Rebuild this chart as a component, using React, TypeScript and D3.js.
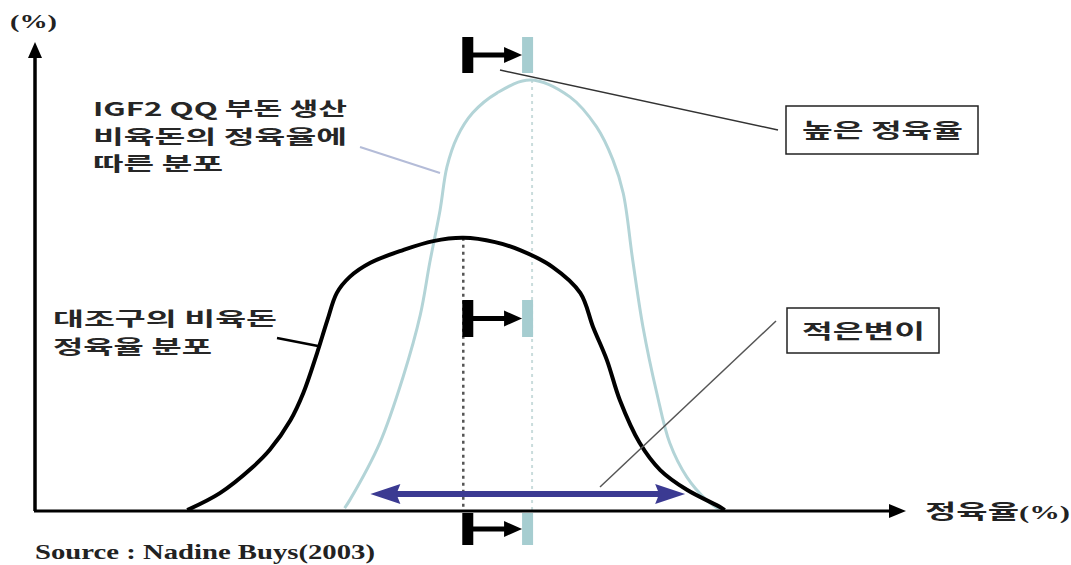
import React from "react";
import * as d3 from "d3";

// x: 정육율 (arbitrary units), y: frequency (%)
const controlX = [17.7, 21.5, 25.3, 27.3, 29.7, 31.2, 32.8, 34.0, 35.1, 36.6, 39.0, 42.8, 46.3, 49.8, 53.5, 56.4, 60.2, 63.4, 64.9, 66.5, 68.0, 70.3, 72.7, 75.8, 79.7, 80.2];
const controlY = [0, 3.6, 9.1, 12.8, 19.1, 24.9, 33.4, 40.4, 46.2, 49.6, 52.6, 55.3, 57.2, 57.9, 57.0, 55.3, 51.7, 46.2, 38.9, 31.9, 23.4, 14.3, 8.5, 4.3, 0.6, 0];

const igf2X = [36.0, 36.6, 40.1, 42.8, 44.8, 45.9, 47.1, 47.9, 49.1, 50.9, 53.7, 57.6, 62.2, 65.3, 67.2, 68.4, 69.5, 70.7, 72.3, 73.8, 75.8, 78.1, 79.7];
const igf2Y = [0.4, 2.1, 14.3, 28.3, 41.5, 52.6, 63.8, 73.0, 79.4, 84.5, 88.7, 91.5, 87.9, 81.5, 74.5, 67.4, 53.2, 38.9, 24.9, 14.3, 7.0, 2.1, 0];

const controlMean = 49.8;
const igf2Mean = 57.8;
const igf2Peak = 91.5;
const controlPeak = 57.9;
const spreadRange = [39.0, 75.6];
const spreadLevel = 3.4;

const labelIGF2 = ["IGF2 QQ 부돈 생산", "비육돈의 정육율에", "따른 분포"];
const labelControl = ["대조구의 비육돈", "정육율 분포"];
const labelHigh = "높은 정육율";
const labelSmallVar = "적은변이";
const yAxisLabel = "(%)";
const xAxisLabel = "정육율";
const sourceLabel = "Source : Nadine Buys(2003)";

const W = 1071;
const H = 565;

export default function App() {
  const x = d3.scaleLinear().domain([0, 100]).range([35, 895]);
  const y = d3.scaleLinear().domain([0, 100]).range([510, 40]);

  const line = d3
    .line<[number, number]>()
    .x((d) => x(d[0]))
    .y((d) => Math.min(y(d[1]), y(0)))
    .curve(d3.curveCatmullRom.alpha(0.5));

  const controlPts = controlX.map((v, i) => [v, controlY[i]] as [number, number]);
  const igf2Pts = igf2X.map((v, i) => [v, igf2Y[i]] as [number, number]);

  const lightBlue = "#b3d4d7";
  const barBlue = "#a6cdd0";
  const navy = "#3b3a92";
  const kr = "'Noto Sans CJK KR', 'Noto Sans', sans-serif";
  const serif = "'Liberation Serif', 'DejaVu Serif', serif";

  const bm = x(controlMean);
  const im = x(igf2Mean);

  const marker = (y0: number, y1: number, key: string) => {
    const cy = (y0 + y1) / 2;
    return (
      <g key={key}>
        <rect x={bm - 1} y={y0} width={11} height={y1 - y0} fill="#000" />
        <line x1={bm + 9} x2={im - 26} y1={cy} y2={cy} stroke="#000" strokeWidth={5} />
        <path d={`M${im - 28},${cy - 8} L${im - 10},${cy} L${im - 28},${cy + 8} Z`} fill="#000" />
        <rect x={im - 10} y={y0} width={11} height={y1 - y0} fill={barBlue} />
      </g>
    );
  };

  const ay = y(spreadLevel);
  const ax0 = x(spreadRange[0]);
  const ax1 = x(spreadRange[1]);

  const krText = (t: string, tx: number, ty: number, len: number, size = 19, key?: string) => (
    <text
      key={key}
      x={tx}
      y={ty}
      fontFamily={kr}
      fontWeight={700}
      fontSize={size}
      fill="#262626"
      textLength={len}
      lengthAdjust="spacingAndGlyphs"
    >
      {t}
    </text>
  );

  return (
    <svg
      width={W}
      height={H}
      style={{ position: "absolute", left: 0, top: 0, background: "#fff" }}
    >
      {/* dotted mean lines */}
      <line x1={im} x2={im} y1={y(igf2Peak)} y2={y(0)} stroke="#c9dcdc" strokeWidth={2} strokeDasharray="3,4" />
      <line x1={bm} x2={bm} y1={y(controlPeak)} y2={y(0)} stroke="#555" strokeWidth={2.5} strokeDasharray="3,4" />

      {/* curves */}
      <path d={line(igf2Pts) || ""} fill="none" stroke={lightBlue} strokeWidth={3} />
      <path d={line(controlPts) || ""} fill="none" stroke="#000" strokeWidth={4} />

      {/* spread double arrow */}
      <line x1={ax0 + 25} x2={ax1 - 25} y1={ay} y2={ay} stroke={navy} strokeWidth={6} />
      <path d={`M${ax0},${ay} L${ax0 + 30},${ay - 10} L${ax0 + 26},${ay} L${ax0 + 30},${ay + 10} Z`} fill={navy} />
      <path d={`M${ax1},${ay} L${ax1 - 30},${ay - 10} L${ax1 - 26},${ay} L${ax1 - 30},${ay + 10} Z`} fill={navy} />

      {/* axes */}
      <line x1={35} x2={35} y1={511} y2={56} stroke="#000" strokeWidth={3.5} />
      <path d="M35,42 L28,58 L42,58 Z" fill="#000" />
      <line x1={34} x2={890} y1={511} y2={511} stroke="#000" strokeWidth={3} />
      <path d="M906,511 L889,504 L889,518 Z" fill="#000" />

      {/* markers */}
      {marker(37, 73, "top")}
      {marker(300, 337, "mid")}
      {marker(513, 545, "bot")}

      {/* pointer lines */}
      <line x1={500} y1={70} x2={778} y2={130} stroke="#333" strokeWidth={1.5} />
      <line x1={600} y1={487} x2={776} y2={321} stroke="#555" strokeWidth={1.5} />
      <line x1={360} y1={147} x2={440} y2={173} stroke="#b4bcd8" strokeWidth={2} />
      <line x1={277} y1={338} x2={318} y2={346} stroke="#000" strokeWidth={2.5} />

      {/* boxes */}
      <rect x={786} y={106} width={192} height={48} fill="#fff" stroke="#222" strokeWidth={1.5} />
      {krText(labelHigh, 802, 138, 161, 20)}
      <rect x={787} y={308} width={152} height={45} fill="#fff" stroke="#222" strokeWidth={1.5} />
      {krText(labelSmallVar, 802, 339, 123, 20)}

      {/* labels */}
      <text x={10} y={28} fontFamily={serif} fontWeight={700} fontSize={19} fill="#222" textLength={47} lengthAdjust="spacingAndGlyphs">{yAxisLabel}</text>
      {labelIGF2.map((t, i) => krText(t, 93, 116 + i * 27.5, i === 2 ? 130 : 254, 19, t))}
      {labelControl.map((t, i) => krText(t, 53, 326 + i * 27.5, i === 0 ? 224 : 159, 19, t))}
      <text x={925} y={519} fontFamily={kr} fontWeight={700} fontSize={20} fill="#222" textLength={145} lengthAdjust="spacingAndGlyphs">
        {xAxisLabel}
        <tspan fontFamily={serif} fontSize={18}>(%)</tspan>
      </text>
      <text x={35} y={559} fontFamily={serif} fontWeight={700} fontSize={22} fill="#222" textLength={340} lengthAdjust="spacingAndGlyphs">{sourceLabel}</text>
    </svg>
  );
}
